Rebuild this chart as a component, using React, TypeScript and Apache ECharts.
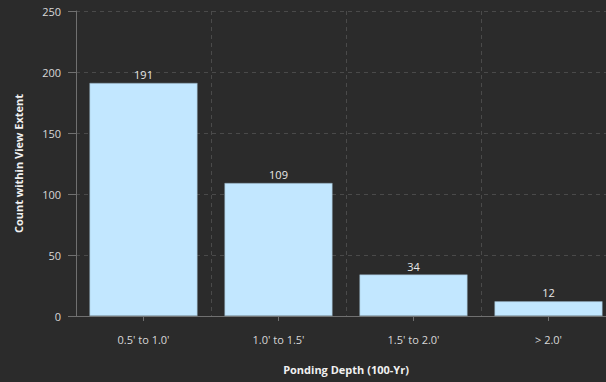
import React, { useEffect, useRef } from "react";
import * as echarts from "echarts";

const categories = ["0.5' to 1.0'", "1.0' to 1.5'", "1.5' to 2.0'", "> 2.0'"];
const counts = [191, 109, 34, 12];
const yTicks = { min: 0, max: 250, interval: 50 };

export default function App() {
  const ref = useRef<HTMLDivElement>(null);
  useEffect(() => {
    if (!ref.current) return;
    const chart = echarts.init(ref.current, null, { renderer: "svg" });
    const font = "'Open Sans', 'Noto Sans', sans-serif";
    chart.setOption({
      animation: false,
      backgroundColor: "#2b2b2b",
      textStyle: { fontFamily: font },
      grid: { left: 76, right: 0, top: 11, bottom: 66 },
      xAxis: {
        type: "category",
        data: categories,
        name: "Ponding Depth (100-Yr)",
        nameLocation: "middle",
        nameGap: 48,
        nameTextStyle: { color: "#f0f0f0", fontSize: 11, fontWeight: "bold", fontFamily: font },
        axisLine: { lineStyle: { color: "#707070" } },
        axisTick: { show: true, alignWithLabel: true, length: 5, lineStyle: { color: "#707070" } },
        axisLabel: { color: "#d8d8d8", fontSize: 11, margin: 18, fontFamily: font },
        splitLine: { show: true, lineStyle: { color: "#4a4a4a", type: [4, 4] } },
      },
      yAxis: {
        type: "value",
        min: yTicks.min,
        max: yTicks.max,
        interval: yTicks.interval,
        name: "Count within View Extent",
        nameLocation: "middle",
        nameGap: 52,
        nameTextStyle: { color: "#f0f0f0", fontSize: 11, fontWeight: "bold", fontFamily: font },
        axisLine: { show: true, lineStyle: { color: "#707070" } },
        axisTick: { show: true, length: 8, lineStyle: { color: "#707070" } },
        axisLabel: { color: "#d8d8d8", fontSize: 11, margin: 15, fontFamily: font },
        splitLine: { show: true, lineStyle: { color: "#4a4a4a", type: [4, 4] } },
      },
      series: [
        {
          type: "bar",
          data: counts,
          barCategoryGap: "20%",
          itemStyle: { color: "#c2e7ff", borderColor: "#8fa6b4", borderWidth: 0.5 },
          label: {
            show: true,
            position: "top",
            distance: 3,
            color: "#e8e8e8",
            fontSize: 11,
            fontFamily: font,
          },
        },
      ],
    });
    return () => chart.dispose();
  }, []);
  return (
    <div style={{ position: "absolute", left: 0, top: 0, width: 606, height: 382, overflow: "hidden", background: "#2b2b2b" }}>
      <div ref={ref} style={{ width: 616, height: 382 }} />
    </div>
  );
}
